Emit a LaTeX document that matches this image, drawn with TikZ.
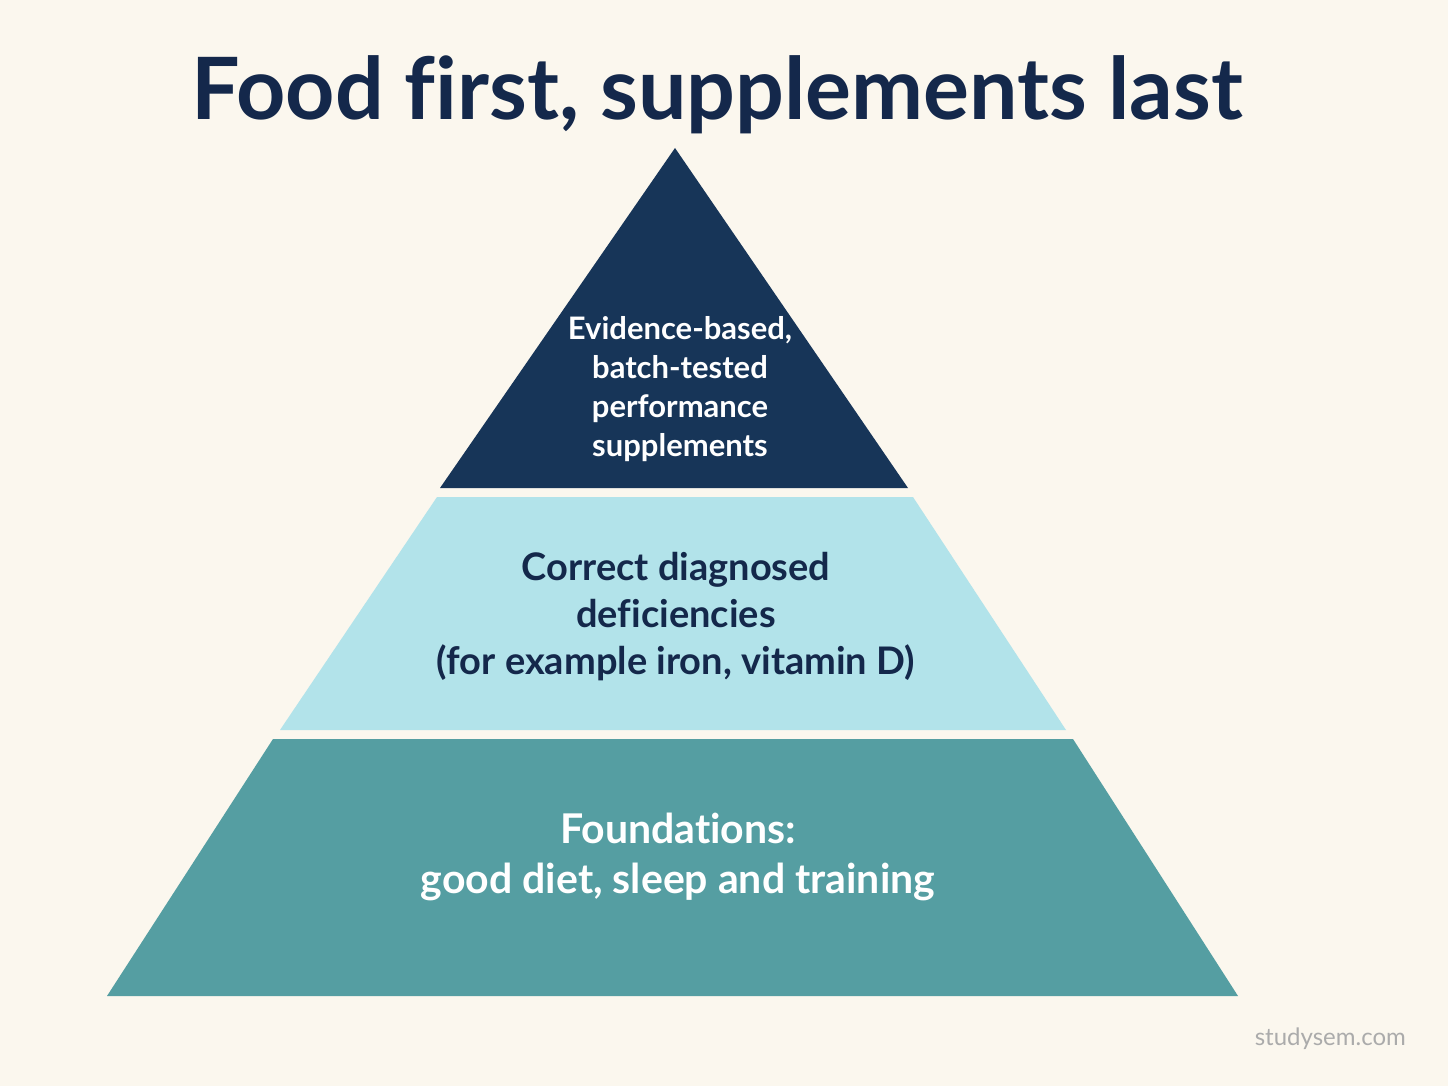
\documentclass[tikz,border=0pt]{standalone}
\usepackage{fontspec}
\setmainfont{Lato}[Ligatures={NoCommon}]
\usepackage{tikz}
\usetikzlibrary{positioning}

\definecolor{cream}{HTML}{FBF7EE}
\definecolor{navy}{HTML}{173558}
\definecolor{inknavy}{HTML}{14284B}
\definecolor{paleblue}{HTML}{B2E3EA}
\definecolor{teal}{HTML}{559EA2}
\definecolor{markgray}{HTML}{ABABAB}

\begin{document}
\begin{tikzpicture}[x=1pt, y=-1pt,
    tier/.style={draw=none},
    label/.style={align=center, font=\bfseries\fontsize{38}{47}\selectfont, text=inknavy}]
    % Background
    \fill [cream] (0,0) rectangle (1448,1086);
    \useasboundingbox (0,0) rectangle (1448,1086);

    % Tiers {top, middle, bottom}
    \fill [tier, navy]     (675,148) -- (908,488) -- (440,488) -- cycle;
    \fill [tier, paleblue] (437,497) -- (913,497) -- (1066,730) -- (280,730) -- cycle;
    \fill [tier, teal]     (273,739) -- (1073,739) -- (1238,996) -- (107,996) -- cycle;

    % Nodes {title, tiers, mark}
    \node [font=\bfseries\fontsize{86}{100}\selectfont, text=inknavy, anchor=base]
        (title) at (717,120) {Food first, supplements last};
    \node [label, text=white, font=\bfseries\fontsize{31}{39}\selectfont]
        (top) at (680,389) {Evidence-based,\\batch-tested\\performance\\supplements};
    \node [label] (middle) at (676,617)
        {Correct diagnosed\\deficiencies\\(for example iron, vitamin D)};
    \node [label, text=white, font=\bfseries\fontsize{41}{50}\selectfont]
        (bottom) at (678,857) {Foundations:\\good diet, sleep and training};
    \node [font=\fontsize{24}{28}\selectfont, text=markgray, anchor=base east, inner sep=0pt]
        (mark) at (1406,1045) {studysem.com};
\end{tikzpicture}
\end{document}
